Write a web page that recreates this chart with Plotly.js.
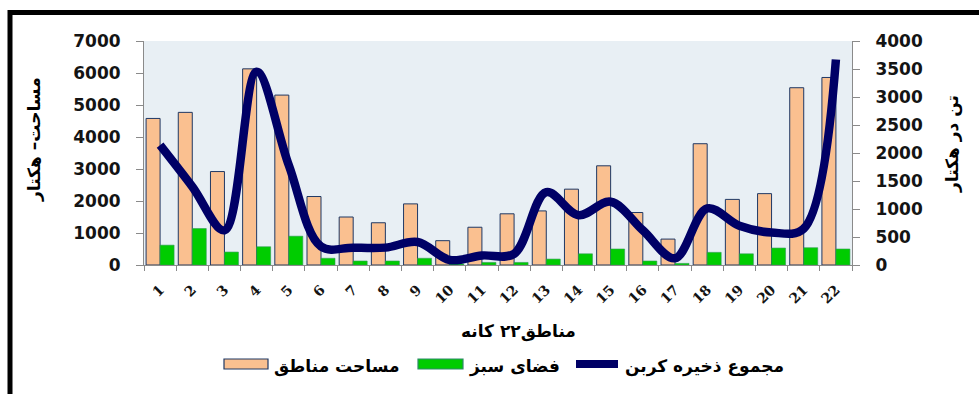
<!DOCTYPE html>
<html>
<head>
<meta charset="utf-8">
<script src="https://cdn.plot.ly/plotly-3.0.1.min.js"></script>
<style>
  html, body { margin: 0; padding: 0; background: #ffffff; }
  #chart { width: 979px; height: 394px; }
</style>
</head>
<body>
<div id="chart"></div>
<script>
// District numbers (22 municipal districts)
const regions = ['1','2','3','4','5','6','7','8','9','10','11','12','13','14','15','16','17','18','19','20','21','22'];
// District area, hectares (left axis)
const districtArea = [4580, 4770, 2920, 6130, 5310, 2140, 1500, 1320, 1910, 760, 1180, 1600, 1690, 2370, 3100, 1640, 810, 3790, 2050, 2230, 5540, 5860];
// Green space, hectares (left axis)
const greenSpace = [620, 1140, 405, 570, 900, 210, 125, 125, 210, 30, 80, 80, 185, 350, 500, 125, 50, 395, 350, 530, 540, 500];
// Total carbon storage, tonnes per hectare (right axis)
const carbonStock = [2140, 1400, 620, 3450, 1780, 330, 310, 310, 410, 90, 170, 200, 1300, 890, 1130, 620, 120, 1010, 700, 580, 650, 3670];

const names = {
  area: 'مساحت مناطق',
  green: 'فضای سبز',
  carbon: 'مجموع ذخیره کربن'
};
const yLeftTitle = 'مساحت– هکتار';
const yRightTitle = 'تن در هکتار';
const xTitle = 'مناطق۲۲ کانه';

const W = 979, H = 394;
const M = { l: 144, r: 127, t: 41, b: 129 };
const plotW = W - M.l - M.r;
const plotH = H - M.t - M.b;
// pixel -> paper coordinates for layout decorations
const px = x => (x - M.l) / plotW;
const py = y => (H - M.b - y) / plotH;

const tickFont = { family: 'DejaVu Sans, sans-serif', size: 17, weight: 700, color: '#141414' };
const arFont = { family: 'DejaVu Sans, sans-serif', size: 17, weight: 700, color: '#000000' };
const axisGray = '#8a8a8a';

const traces = [
  {
    type: 'bar', name: names.area, x: regions, y: districtArea,
    marker: { color: '#fac090', line: { color: '#1f3864', width: 1 } },
    yaxis: 'y', hoverinfo: 'x+y'
  },
  {
    type: 'bar', name: names.green, x: regions, y: greenSpace,
    marker: { color: '#00cc00', line: { color: '#2f9a55', width: 0.6 } },
    yaxis: 'y', hoverinfo: 'x+y'
  },
  {
    type: 'scatter', mode: 'lines', name: names.carbon, x: regions, y: carbonStock,
    line: { color: '#000066', width: 8.5, shape: 'spline', smoothing: 1 },
    yaxis: 'y2', hoverinfo: 'x+y'
  }
];

// Custom legend: wide swatches followed by labels
const shapes = [
  { type: 'rect', xref: 'paper', yref: 'paper', x0: px(224), x1: px(268), y0: py(369), y1: py(359),
    fillcolor: '#fac090', line: { color: '#1f3864', width: 1.2 } },
  { type: 'rect', xref: 'paper', yref: 'paper', x0: px(418), x1: px(463), y0: py(369), y1: py(359),
    fillcolor: '#00cc00', line: { color: '#2f8a6a', width: 1.2 } },
  { type: 'line', xref: 'paper', yref: 'paper', x0: px(576), x1: px(618), y0: py(364), y1: py(364),
    line: { color: '#000066', width: 8 } },
  // outer frame of the chart
  { type: 'rect', xref: 'paper', yref: 'paper', x0: px(10), x1: px(1000), y0: py(420), y1: py(12.5),
    fillcolor: 'rgba(0,0,0,0)', line: { color: '#000000', width: 5 } }
];

const annotations = [
  { xref: 'paper', yref: 'paper', x: px(272), y: py(366), xanchor: 'left', yanchor: 'middle',
    text: names.area, showarrow: false, font: arFont },
  { xref: 'paper', yref: 'paper', x: px(467), y: py(366), xanchor: 'left', yanchor: 'middle',
    text: names.green, showarrow: false, font: arFont },
  { xref: 'paper', yref: 'paper', x: px(623), y: py(366), xanchor: 'left', yanchor: 'middle',
    text: names.carbon, showarrow: false, font: arFont },
  { xref: 'paper', yref: 'paper', x: px(518), y: py(331), xanchor: 'center', yanchor: 'middle',
    text: xTitle, showarrow: false, font: arFont },
  { xref: 'paper', yref: 'paper', x: px(34), y: py(139), xanchor: 'center', yanchor: 'middle',
    text: yLeftTitle, textangle: -90, showarrow: false, font: arFont },
  { xref: 'paper', yref: 'paper', x: px(952), y: py(144), xanchor: 'center', yanchor: 'middle',
    text: yRightTitle, textangle: -90, showarrow: false, font: arFont }
];

const layout = {
  width: W, height: H,
  margin: M,
  paper_bgcolor: '#ffffff',
  plot_bgcolor: '#e8eff4',
  showlegend: false,
  barmode: 'group',
  bargap: 0.13,
  bargroupgap: 0,
  xaxis: {
    type: 'category',
    tickson: 'boundaries',
    ticks: 'outside', ticklen: 5, tickcolor: axisGray, tickwidth: 1,
    showline: true, linecolor: axisGray, linewidth: 1,
    showgrid: false, zeroline: false,
    tickangle: -45,
    ticklabelstandoff: 10,
    tickfont: { family: 'DejaVu Serif, serif', size: 14, weight: 700, color: '#141414' },
    fixedrange: true
  },
  yaxis: {
    range: [0, 7000], dtick: 1000,
    ticks: 'outside', ticklen: 7, tickcolor: axisGray,
    showline: true, linecolor: axisGray, linewidth: 1,
    showgrid: false, zeroline: false,
    ticklabelstandoff: 12,
    tickfont: tickFont,
    fixedrange: true
  },
  yaxis2: {
    overlaying: 'y', side: 'right',
    range: [0, 4000], dtick: 500,
    ticks: 'outside', ticklen: 7, tickcolor: axisGray,
    showline: true, linecolor: axisGray, linewidth: 1,
    showgrid: false, zeroline: false,
    ticklabelstandoff: 12,
    tickfont: tickFont,
    fixedrange: true
  },
  shapes: shapes,
  annotations: annotations
};

Plotly.newPlot('chart', traces, layout, { staticPlot: true, displayModeBar: false });
</script>
</body>
</html>
